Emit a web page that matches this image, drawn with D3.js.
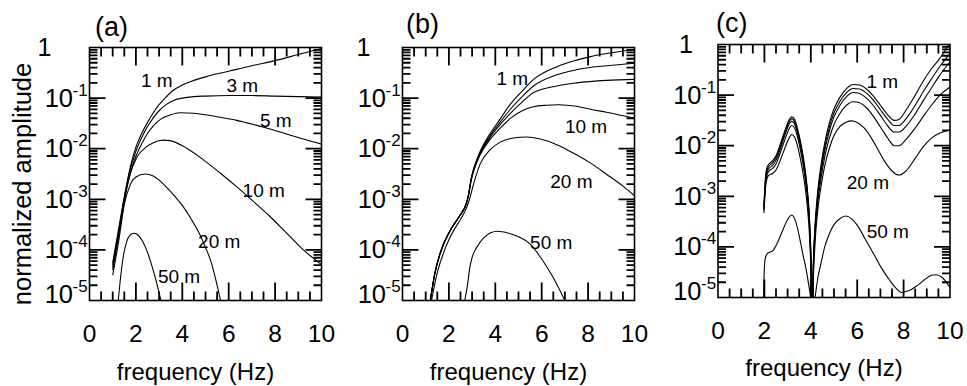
<!DOCTYPE html>
<html><head><meta charset="utf-8">
<script src="https://cdn.jsdelivr.net/npm/d3@7"></script>
<style>body{margin:0;background:#fff}svg{display:block}</style>
</head><body>
<svg id="chart" width="967" height="386"></svg>
<script>
// ---------------- data (frequency in Hz, log10 of normalized amplitude) ----------------
const X_TICKS = [0, 2, 4, 6, 8, 10];
const Y_EXPONENTS = [0, -1, -2, -3, -4, -5];
const PANEL_TITLES = ["(a)", "(b)", "(c)"];
const X_LABEL = "frequency (Hz)";
const Y_LABEL = "normalized amplitude";

// panel (a)
const A_1m = [[1.0,-4.25],[1.25,-3.6],[1.5,-2.95],[1.75,-2.38],[2.0,-1.97],[2.25,-1.7],[2.5,-1.48],[2.75,-1.29],[3.0,-1.13],[3.3,-0.98],[3.6,-0.85],[4.0,-0.74],[4.5,-0.65],[5.0,-0.58],[6.0,-0.47],[7.0,-0.36],[8.0,-0.26],[9.0,-0.14],[10.0,-0.02]];
const A_3m = [[1.0,-4.3],[1.25,-3.65],[1.5,-2.97],[1.75,-2.42],[2.0,-2.05],[2.25,-1.78],[2.5,-1.56],[2.75,-1.39],[3.0,-1.25],[3.3,-1.13],[3.6,-1.05],[4.0,-1.0],[4.5,-0.97],[5.0,-0.96],[6.0,-0.95],[7.0,-0.95],[8.0,-0.96],[9.0,-0.97],[10.0,-0.98]];
const A_5m = [[1.0,-4.35],[1.25,-3.7],[1.5,-3.0],[1.75,-2.5],[2.0,-2.15],[2.25,-1.9],[2.5,-1.7],[2.75,-1.55],[3.0,-1.44],[3.5,-1.33],[3.9,-1.29],[4.5,-1.3],[5.0,-1.33],[5.63,-1.38],[6.34,-1.44],[7.06,-1.52],[7.78,-1.61],[8.5,-1.71],[9.22,-1.81],[10.0,-1.91]];
const A_10m = [[1.0,-4.4],[1.25,-3.75],[1.53,-2.97],[1.74,-2.52],[2.03,-2.18],[2.46,-1.96],[2.75,-1.88],[3.18,-1.83],[3.47,-1.84],[4.19,-1.99],[4.91,-2.22],[5.63,-2.48],[6.34,-2.75],[7.06,-3.04],[7.78,-3.34],[8.5,-3.67],[9.22,-4.0],[10.0,-4.29]];
const A_20m = [[1.0,-4.5],[1.25,-3.85],[1.5,-3.1],[1.75,-2.72],[2.0,-2.56],[2.39,-2.5],[2.75,-2.54],[3.0,-2.62],[3.5,-2.85],[4.0,-3.12],[4.5,-3.48],[4.76,-3.7],[5.0,-3.95],[5.25,-4.25],[5.45,-4.6],[5.65,-5.0]];
const A_50m = [[1.24,-5.0],[1.35,-4.5],[1.46,-4.12],[1.6,-3.84],[1.75,-3.71],[1.92,-3.67],[2.1,-3.71],[2.3,-3.84],[2.5,-4.05],[2.7,-4.33],[2.9,-4.66],[3.08,-5.0]];

// panel (b)
const B_1m = [[1.2,-5.0],[1.4,-4.45],[1.6,-4.1],[1.8,-3.85],[2.0,-3.66],[2.25,-3.47],[2.5,-3.3],[2.75,-3.08],[2.85,-2.9],[2.95,-2.62],[3.1,-2.35],[3.35,-2.05],[3.75,-1.72],[4.2,-1.42],[4.65,-1.12],[5.2,-0.84],[5.65,-0.63],[6.65,-0.38],[7.5,-0.25],[8.1,-0.18],[8.8,-0.12],[10.0,-0.04]];
const B_3m = [[1.2,-5.0],[1.4,-4.45],[1.6,-4.1],[1.8,-3.85],[2.0,-3.66],[2.25,-3.47],[2.5,-3.3],[2.75,-3.08],[2.85,-2.9],[2.95,-2.62],[3.1,-2.36],[3.35,-2.07],[3.75,-1.76],[4.2,-1.48],[4.65,-1.22],[5.2,-0.95],[5.65,-0.76],[6.65,-0.54],[7.5,-0.44],[8.8,-0.36],[10.0,-0.31]];
const B_5m = [[1.2,-5.0],[1.4,-4.45],[1.6,-4.1],[1.8,-3.85],[2.0,-3.66],[2.25,-3.47],[2.5,-3.3],[2.75,-3.08],[2.85,-2.9],[2.95,-2.63],[3.1,-2.37],[3.35,-2.09],[3.75,-1.79],[4.2,-1.53],[4.65,-1.3],[5.2,-1.06],[5.65,-0.89],[6.65,-0.76],[7.5,-0.7],[8.8,-0.65],[10.0,-0.63]];
const B_10m = [[1.2,-5.0],[1.4,-4.46],[1.6,-4.11],[1.8,-3.86],[2.0,-3.67],[2.25,-3.48],[2.5,-3.31],[2.75,-3.1],[2.85,-2.92],[2.95,-2.65],[3.1,-2.4],[3.35,-2.12],[3.75,-1.83],[4.2,-1.6],[4.65,-1.4],[5.2,-1.24],[5.65,-1.17],[6.2,-1.14],[6.72,-1.13],[7.5,-1.16],[8.1,-1.22],[8.8,-1.28],[10.0,-1.4]];
const B_20m = [[1.25,-5.0],[1.5,-4.45],[1.8,-4.02],[2.0,-3.8],[2.25,-3.58],[2.5,-3.4],[2.75,-3.18],[2.9,-2.98],[3.05,-2.72],[3.35,-2.3],[3.78,-2.02],[4.21,-1.87],[4.79,-1.79],[5.36,-1.77],[5.94,-1.81],[6.65,-1.92],[7.38,-2.09],[8.09,-2.28],[8.81,-2.51],[9.53,-2.75],[10.0,-2.93]];
const B_50m = [[2.68,-5.0],[2.8,-4.7],[2.9,-4.35],[3.0,-4.15],[3.2,-3.95],[3.5,-3.76],[3.8,-3.66],[4.1,-3.63],[4.5,-3.66],[5.0,-3.74],[5.5,-3.88],[6.0,-4.18],[6.5,-4.55],[7.0,-5.0]];

// panel (c)
const C_1m = [[1.98,-3.2],[2.05,-2.6],[2.12,-2.42],[2.2,-2.36],[2.35,-2.3],[2.5,-2.2],[2.7,-1.95],[2.9,-1.68],[3.05,-1.5],[3.18,-1.43],[3.3,-1.48],[3.45,-1.7],[3.6,-2.02],[3.75,-2.45],[3.85,-2.85],[3.95,-3.5],[4.02,-4.5],[4.05,-6],[4.1,-4.5],[4.18,-3.6],[4.3,-2.9],[4.45,-2.35],[4.6,-1.95],[4.8,-1.55],[5.0,-1.27],[5.26,-1.04],[5.54,-0.87],[5.83,-0.79],[6.1,-0.8],[6.4,-0.88],[6.7,-1.02],[7.0,-1.2],[7.3,-1.38],[7.6,-1.5],[7.8,-1.48],[8.1,-1.3],[8.5,-1.0],[8.85,-0.72],[9.2,-0.48],[9.57,-0.27],[9.93,-0.02],[10.0,0.02]];
const C_3m = [[1.98,-3.22],[2.05,-2.65],[2.12,-2.47],[2.2,-2.4],[2.35,-2.34],[2.5,-2.24],[2.7,-1.99],[2.9,-1.72],[3.05,-1.54],[3.18,-1.47],[3.3,-1.52],[3.45,-1.74],[3.6,-2.06],[3.75,-2.5],[3.85,-2.9],[3.95,-3.55],[4.02,-4.55],[4.05,-6],[4.1,-4.55],[4.18,-3.65],[4.3,-2.97],[4.45,-2.43],[4.6,-2.03],[4.8,-1.63],[5.0,-1.35],[5.26,-1.12],[5.54,-0.95],[5.83,-0.87],[6.1,-0.88],[6.4,-0.96],[6.7,-1.1],[7.0,-1.29],[7.3,-1.47],[7.6,-1.6],[7.8,-1.6],[8.1,-1.47],[8.5,-1.2],[8.85,-0.93],[9.2,-0.68],[9.57,-0.43],[10.0,-0.18]];
const C_5m = [[1.98,-3.25],[2.05,-2.7],[2.12,-2.52],[2.2,-2.45],[2.35,-2.39],[2.5,-2.29],[2.7,-2.04],[2.9,-1.77],[3.05,-1.59],[3.18,-1.52],[3.3,-1.57],[3.45,-1.79],[3.6,-2.11],[3.75,-2.55],[3.85,-2.95],[3.95,-3.6],[4.02,-4.6],[4.05,-6],[4.1,-4.6],[4.18,-3.7],[4.3,-3.03],[4.45,-2.5],[4.6,-2.1],[4.8,-1.71],[5.0,-1.43],[5.26,-1.2],[5.54,-1.03],[5.83,-0.95],[6.1,-0.97],[6.4,-1.06],[6.7,-1.21],[7.0,-1.4],[7.3,-1.6],[7.6,-1.73],[7.8,-1.73],[8.1,-1.62],[8.5,-1.37],[8.85,-1.11],[9.2,-0.86],[9.57,-0.6],[10.0,-0.34]];
const C_10m = [[1.98,-3.28],[2.05,-2.75],[2.12,-2.57],[2.2,-2.5],[2.35,-2.45],[2.5,-2.36],[2.7,-2.12],[2.9,-1.86],[3.05,-1.68],[3.18,-1.6],[3.3,-1.65],[3.45,-1.87],[3.6,-2.2],[3.75,-2.63],[3.85,-3.03],[3.95,-3.68],[4.02,-4.7],[4.05,-6],[4.1,-4.7],[4.18,-3.8],[4.3,-3.12],[4.45,-2.62],[4.6,-2.22],[4.8,-1.85],[5.0,-1.58],[5.26,-1.36],[5.54,-1.2],[5.83,-1.13],[6.1,-1.15],[6.4,-1.25],[6.7,-1.42],[7.0,-1.63],[7.3,-1.84],[7.6,-2.0],[7.8,-2.0],[8.1,-1.88],[8.5,-1.65],[8.85,-1.42],[9.2,-1.2],[9.57,-1.0],[10.0,-0.84]];
const C_20m = [[1.98,-3.33],[2.05,-2.82],[2.12,-2.64],[2.2,-2.58],[2.35,-2.55],[2.5,-2.48],[2.7,-2.27],[2.9,-2.03],[3.05,-1.86],[3.18,-1.78],[3.3,-1.83],[3.45,-2.05],[3.6,-2.38],[3.75,-2.8],[3.85,-3.2],[3.95,-3.85],[4.02,-4.8],[4.05,-6],[4.1,-4.8],[4.18,-3.95],[4.3,-3.28],[4.45,-2.78],[4.6,-2.4],[4.8,-2.05],[5.0,-1.8],[5.26,-1.62],[5.54,-1.53],[5.75,-1.51],[6.0,-1.54],[6.3,-1.65],[6.6,-1.84],[6.9,-2.08],[7.2,-2.32],[7.5,-2.5],[7.8,-2.58],[8.1,-2.5],[8.5,-2.25],[8.85,-2.02],[9.2,-1.85],[9.57,-1.75],[10.0,-1.69]];
const C_50m = [[1.96,-5.2],[1.99,-4.5],[2.05,-4.2],[2.15,-4.12],[2.35,-4.08],[2.55,-3.93],[2.8,-3.66],[3.0,-3.46],[3.18,-3.37],[3.35,-3.5],[3.5,-3.78],[3.65,-4.13],[3.8,-4.45],[3.92,-4.78],[4.0,-5.05],[4.06,-6],[4.12,-5.3],[4.2,-4.95],[4.3,-4.62],[4.45,-4.3],[4.6,-4.0],[4.8,-3.74],[5.0,-3.56],[5.26,-3.44],[5.5,-3.39],[5.75,-3.44],[6.0,-3.57],[6.35,-3.85],[6.7,-4.13],[7.05,-4.42],[7.4,-4.66],[7.7,-4.83],[7.9,-4.9],[8.1,-4.88],[8.3,-4.85],[8.6,-4.76],[8.9,-4.65],[9.2,-4.56],[9.4,-4.55],[9.65,-4.6],[10.0,-4.8]];

const PANEL_CURVES = [
  [A_1m, A_3m, A_5m, A_10m, A_20m, A_50m],
  [B_1m, B_3m, B_5m, B_10m, B_20m, B_50m],
  [C_1m, C_3m, C_5m, C_10m, C_20m, C_50m]
];
const PANEL_DEPTH_LABELS = [
  ["1 m", "3 m", "5 m", "10 m", "20 m", "50 m"],
  ["1 m", "10 m", "20 m", "50 m"],
  ["1 m", "20 m", "50 m"]
];

// ---------------- layout ----------------
const LAYOUT = [
  {x0: 89.5, y0: 47.5, w: 232, h: 253, titleX: 95, titleY: 36, xtickY: 342, xlabY: 380, oneDx: -38},
  {x0: 402.5, y0: 47.5, w: 232, h: 253, titleX: 406, titleY: 33, xtickY: 342, xlabY: 380, oneDx: -32},
  {x0: 718, y0: 44.5, w: 232, h: 253, titleX: 716, titleY: 32, xtickY: 339, xlabY: 376, oneDx: -25}
];
// label anchor (start) positions in data coords: [freq, log10 amp]
const LABEL_POS = [
  [[2.22,-0.78],[5.9,-0.88],[7.35,-1.57],[6.6,-2.95],[4.68,-3.96],[2.95,-4.65]],
  [[4.05,-0.74],[7.0,-1.69],[6.37,-2.78],[5.5,-3.98]],
  [[6.4,-0.86],[5.55,-2.85],[6.41,-3.83]]
];
const FONT = "'Liberation Sans', Arial, Helvetica, sans-serif";

const svg = d3.select("#chart");
svg.append("rect").attr("width", 967).attr("height", 386).attr("fill", "#fff");

const minorY = [];
for (let d = -5; d < 0; d++) for (let k = 2; k <= 9; k++) minorY.push(k * Math.pow(10, d));
const majorY = Y_EXPONENTS.slice(1, -1).map(e => Math.pow(10, e));
const minorX = d3.range(0.5, 10, 0.5).filter(v => v % 2 !== 0);
const majorX = [2, 4, 6, 8];

LAYOUT.forEach((L, i) => {
  const x = d3.scaleLinear().domain([0, 10]).range([L.x0, L.x0 + L.w]);
  const y = d3.scaleLog().domain([1e-5, 1]).range([L.y0 + L.h, L.y0]);
  const xl = L.x0, xr = L.x0 + L.w, yt = L.y0, yb = L.y0 + L.h;

  const clipId = "clip" + i;
  svg.append("clipPath").attr("id", clipId).append("rect")
    .attr("x", L.x0).attr("y", L.y0).attr("width", L.w).attr("height", L.h);

  const line = d3.line()
    .x(d => x(d[0]))
    .y(d => y(Math.pow(10, d[1])))
    .curve(d3.curveMonotoneX);

  svg.append("g").attr("clip-path", `url(#${clipId})`)
    .selectAll("path").data(PANEL_CURVES[i]).join("path")
    .attr("d", line).attr("fill", "none").attr("stroke", "#000").attr("stroke-width", 1.1);

  // frame
  svg.append("rect").attr("x", L.x0).attr("y", L.y0).attr("width", L.w).attr("height", L.h)
    .attr("fill", "none").attr("stroke", "#000").attr("stroke-width", 1.6);

  // ticks (inward on all four sides), drawn on top
  const yTickPath = (vals, len) => vals.map(v => {
    const yy = y(v).toFixed(2);
    return `M${xl},${yy}h${len}M${xr},${yy}h${-len}`;
  }).join("");
  const xTickPath = (vals, len) => vals.map(v => {
    const xx = x(v).toFixed(2);
    return `M${xx},${yb}v${-len}M${xx},${yt}v${len}`;
  }).join("");
  [yTickPath(majorY, 16), yTickPath(minorY, 8), xTickPath(majorX, 18), xTickPath(minorX, 9)]
    .forEach(dStr => {
      svg.append("path").attr("d", dStr).attr("fill", "none")
        .attr("stroke", "#000").attr("stroke-width", 1.8);
    });

  // x tick labels
  svg.append("g").selectAll("text").data(X_TICKS).join("text")
    .attr("x", d => x(d)).attr("y", L.xtickY).attr("text-anchor", "middle")
    .attr("font-family", FONT).attr("font-size", 24.5).text(d => d);

  // y tick labels
  Y_EXPONENTS.forEach(e => {
    const yy = y(Math.pow(10, e));
    if (e === 0) {
      svg.append("text").attr("x", L.x0 + L.oneDx).attr("y", yy + 8).attr("text-anchor", "end")
        .attr("font-family", FONT).attr("font-size", 25).text("1");
    } else {
      const base = e === -5 ? yy + 2 : yy + 8.5;
      svg.append("text").attr("x", L.x0 - 16.5).attr("y", base).attr("text-anchor", "end")
        .attr("font-family", FONT).attr("font-size", 25.5).text("10");
      svg.append("text").attr("x", L.x0 - 17).attr("y", base - 11).attr("text-anchor", "start")
        .attr("font-family", FONT).attr("font-size", 17).text(String(e));
    }
  });

  // depth labels
  PANEL_DEPTH_LABELS[i].forEach((t, k) => {
    const p = LABEL_POS[i][k];
    svg.append("text").attr("x", x(p[0])).attr("y", y(Math.pow(10, p[1])))
      .attr("font-family", FONT).attr("font-size", 19).text(t);
  });

  // title
  svg.append("text").attr("x", L.titleX).attr("y", L.titleY)
    .attr("font-family", FONT).attr("font-size", 27).text(PANEL_TITLES[i]);

  // x label
  svg.append("text").attr("x", L.x0 + L.w / 2 - 10).attr("y", L.xlabY).attr("text-anchor", "middle")
    .attr("font-family", FONT).attr("font-size", 24).text(X_LABEL);
});

svg.append("text").attr("transform", "translate(31,184) rotate(-90)")
  .attr("text-anchor", "middle").attr("font-family", FONT).attr("font-size", 25.5).text(Y_LABEL);
</script>
</body></html>
